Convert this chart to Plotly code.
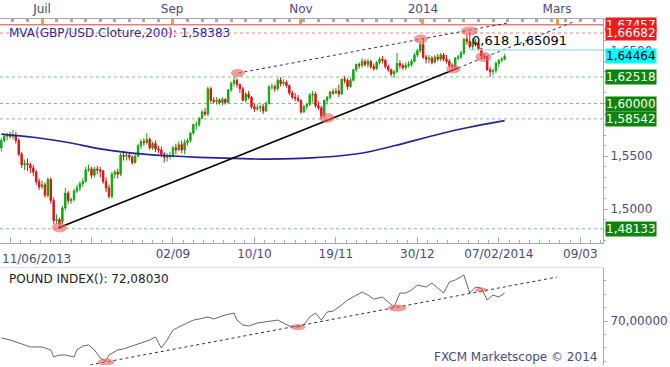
import pandas as pd
import plotly.graph_objects as go

# ---------------- data ----------------
dates = [d.strftime("%Y-%m-%d") for d in pd.bdate_range("2013-06-11", "2014-02-11")
         if d.strftime("%m-%d") not in ("12-25", "01-01")]
bar = list(range(len(dates)))

opens = [1.5580,1.5650,1.5690,1.5700,1.5690,1.5700,1.5650,1.5520,1.5420,1.5430,
         1.5420,1.5390,1.5350,1.5260,1.5210,1.5230,1.5130,1.5280,1.5080,1.4890,
         1.4900,1.4880,1.5010,1.5150,1.5080,1.5090,1.5170,1.5200,1.5240,1.5260,
         1.5370,1.5380,1.5320,1.5380,1.5370,1.5360,1.5260,1.5200,1.5120,1.5330,
         1.5350,1.5330,1.5510,1.5500,1.5510,1.5490,1.5440,1.5500,1.5600,1.5640,
         1.5630,1.5660,1.5580,1.5620,1.5570,1.5560,1.5520,1.5490,1.5500,1.5500,
         1.5580,1.5560,1.5610,1.5560,1.5630,1.5650,1.5720,1.5800,1.5800,1.5860,
         1.5920,1.5900,1.6140,1.6030,1.6020,1.6030,1.6010,1.6040,1.6010,1.6130,
         1.6190,1.6220,1.6180,1.6140,1.6030,1.6090,1.6060,1.5970,1.5950,1.5960,
         1.5970,1.5930,1.6000,1.6160,1.6160,1.6140,1.6220,1.6190,1.6200,1.6170,
         1.6100,1.6060,1.6050,1.6030,1.5920,1.5970,1.5990,1.6080,1.6090,1.5980,
         1.5960,1.5880,1.6030,1.6060,1.6110,1.6100,1.6120,1.6090,1.6230,1.6220,
         1.6160,1.6220,1.6320,1.6370,1.6360,1.6400,1.6370,1.6400,1.6350,1.6330,
         1.6390,1.6420,1.6410,1.6350,1.6320,1.6280,1.6300,1.6380,1.6360,1.6340,
         1.6360,1.6370,1.6400,1.6460,1.6500,1.6560,1.6440,1.6420,1.6430,1.6390,
         1.6440,1.6420,1.6460,1.6420,1.6400,1.6360,1.6350,1.6430,1.6440,1.6480,
         1.6610,1.6590,1.6540,1.6580,1.6570,1.6520,1.6450,1.6440,1.6320,1.6300,
         1.6310,1.6380,1.6410,1.6420]
highs = [1.5675,1.5710,1.5720,1.5730,1.5750,1.5730,1.5670,1.5540,1.5470,1.5480,
         1.5440,1.5420,1.5370,1.5290,1.5270,1.5250,1.5300,1.5300,1.5110,1.4950,
         1.4920,1.5030,1.5200,1.5170,1.5110,1.5190,1.5230,1.5260,1.5290,1.5400,
         1.5420,1.5400,1.5400,1.5410,1.5400,1.5370,1.5300,1.5230,1.5350,1.5370,
         1.5380,1.5530,1.5550,1.5540,1.5530,1.5510,1.5530,1.5620,1.5660,1.5670,
         1.5720,1.5680,1.5640,1.5650,1.5600,1.5590,1.5540,1.5530,1.5540,1.5600,
         1.5620,1.5640,1.5650,1.5660,1.5670,1.5730,1.5810,1.5830,1.5870,1.5940,
         1.5960,1.6160,1.6160,1.6060,1.6060,1.6050,1.6060,1.6050,1.6140,1.6210,
         1.6259,1.6240,1.6190,1.6160,1.6110,1.6120,1.6070,1.6000,1.5990,1.5990,
         1.6000,1.6020,1.6170,1.6190,1.6180,1.6240,1.6250,1.6230,1.6220,1.6180,
         1.6120,1.6100,1.6080,1.6040,1.5990,1.6000,1.6100,1.6120,1.6110,1.6020,
         1.5980,1.6040,1.6070,1.6120,1.6140,1.6150,1.6180,1.6240,1.6260,1.6240,
         1.6240,1.6330,1.6380,1.6390,1.6430,1.6420,1.6420,1.6410,1.6380,1.6400,
         1.6440,1.6450,1.6420,1.6370,1.6330,1.6320,1.6480,1.6410,1.6380,1.6390,
         1.6400,1.6420,1.6480,1.6520,1.6580,1.6620,1.6460,1.6460,1.6450,1.6460,
         1.6470,1.6480,1.6480,1.6460,1.6420,1.6380,1.6440,1.6460,1.6500,1.6620,
         1.6650,1.6668,1.6620,1.6610,1.6590,1.6530,1.6470,1.6450,1.6350,1.6330,
         1.6400,1.6420,1.6440,1.6470]
lows = [1.5545,1.5630,1.5650,1.5670,1.5660,1.5620,1.5500,1.5390,1.5370,1.5360,
        1.5340,1.5310,1.5230,1.5180,1.5190,1.5110,1.5110,1.5050,1.4860,1.4860,
        1.4813,1.4860,1.4990,1.5050,1.5050,1.5070,1.5150,1.5170,1.5210,1.5250,
        1.5350,1.5290,1.5300,1.5330,1.5300,1.5240,1.5160,1.5100,1.5100,1.5290,
        1.5290,1.5310,1.5460,1.5460,1.5460,1.5420,1.5430,1.5490,1.5570,1.5600,
        1.5610,1.5560,1.5560,1.5540,1.5530,1.5490,1.5440,1.5450,1.5470,1.5490,
        1.5520,1.5550,1.5530,1.5520,1.5600,1.5630,1.5700,1.5750,1.5780,1.5850,
        1.5880,1.5880,1.6010,1.6000,1.5990,1.5990,1.5980,1.5990,1.6000,1.6110,
        1.6160,1.6150,1.6100,1.6020,1.6010,1.6040,1.5950,1.5920,1.5930,1.5920,
        1.5900,1.5920,1.5990,1.6130,1.6110,1.6120,1.6160,1.6170,1.6150,1.6080,
        1.6040,1.6020,1.6010,1.5900,1.5910,1.5940,1.5980,1.6010,1.5960,1.5940,
        1.5855,1.5870,1.5990,1.6040,1.6080,1.6090,1.6060,1.6080,1.6190,1.6130,
        1.6150,1.6210,1.6300,1.6330,1.6340,1.6350,1.6340,1.6330,1.6310,1.6320,
        1.6370,1.6380,1.6330,1.6300,1.6260,1.6240,1.6290,1.6330,1.6320,1.6320,
        1.6340,1.6350,1.6390,1.6440,1.6480,1.6420,1.6380,1.6380,1.6370,1.6380,
        1.6400,1.6400,1.6400,1.6380,1.6340,1.6330,1.6340,1.6410,1.6420,1.6460,
        1.6560,1.6520,1.6510,1.6540,1.6500,1.6430,1.6420,1.6310,1.6252,1.6270,
        1.6290,1.6340,1.6390,1.6410]
closes = [1.5650,1.5690,1.5700,1.5690,1.5700,1.5650,1.5520,1.5420,1.5430,1.5420,
          1.5390,1.5350,1.5260,1.5210,1.5230,1.5130,1.5280,1.5080,1.4890,1.4900,
          1.4860,1.5010,1.5150,1.5080,1.5090,1.5170,1.5200,1.5240,1.5260,1.5370,
          1.5380,1.5320,1.5380,1.5370,1.5360,1.5260,1.5200,1.5120,1.5330,1.5350,
          1.5330,1.5510,1.5500,1.5510,1.5490,1.5440,1.5500,1.5600,1.5640,1.5630,
          1.5660,1.5580,1.5620,1.5570,1.5560,1.5520,1.5490,1.5500,1.5500,1.5580,
          1.5560,1.5610,1.5560,1.5630,1.5650,1.5720,1.5800,1.5800,1.5860,1.5920,
          1.5900,1.6140,1.6030,1.6020,1.6030,1.6010,1.6040,1.6010,1.6130,1.6190,
          1.6220,1.6180,1.6140,1.6030,1.6090,1.6060,1.5970,1.5950,1.5960,1.5970,
          1.5930,1.6000,1.6160,1.6160,1.6140,1.6220,1.6190,1.6200,1.6170,1.6100,
          1.6060,1.6050,1.6030,1.5920,1.5970,1.5990,1.6080,1.6090,1.5980,1.5960,
          1.5880,1.6030,1.6060,1.6110,1.6100,1.6120,1.6090,1.6230,1.6220,1.6160,
          1.6220,1.6320,1.6370,1.6360,1.6400,1.6370,1.6400,1.6350,1.6330,1.6390,
          1.6420,1.6410,1.6350,1.6320,1.6280,1.6300,1.6380,1.6360,1.6340,1.6360,
          1.6370,1.6400,1.6460,1.6500,1.6560,1.6440,1.6420,1.6430,1.6390,1.6440,
          1.6420,1.6460,1.6420,1.6400,1.6360,1.6350,1.6430,1.6440,1.6480,1.6610,
          1.6590,1.6540,1.6580,1.6570,1.6520,1.6450,1.6440,1.6320,1.6300,1.6310,
          1.6380,1.6410,1.6420,1.6446]

# 200-day moving average, read at sample bars
ma_bar = [0, 11, 23, 34, 45, 57, 68, 80, 91, 103, 115, 126, 138, 149, 160, 173]
ma_val = [1.5710, 1.5680, 1.5630, 1.5570, 1.5530, 1.5505, 1.5490, 1.5480, 1.5473,
          1.5480, 1.5500, 1.5540, 1.5620, 1.5700, 1.5770, 1.5838]

# Pound index (lower panel)
pi_bar = [0,3,6,10,12,14,17,18,20,22,25,26,28,30,32,34,36,37,40,42,44,47,49,51,53,55,57,59,61,64,
          66,68,71,73,75,77,80,81,83,85,88,91,95,97,99,102,104,106,108,110,112,114,117,119,122,124,
          126,128,131,133,135,137,139,141,143,146,148,150,152,154,156,159,161,163,165,167,169,171,173]
pi_val = [68.74,68.59,68.37,68.07,68.07,68.07,67.85,67.33,67.47,67.47,67.33,67.85,68.14,68.22,67.85,
          67.25,67.03,67.47,67.85,67.92,68.07,68.29,68.44,68.59,68.81,67.99,68.59,69.33,69.55,69.85,
          70.07,70.15,70.30,70.15,70.30,70.45,70.59,70.07,69.70,69.63,69.85,69.93,70.07,69.85,69.63,
          69.55,69.70,70.30,70.59,70.07,70.67,70.74,71.19,71.56,71.93,72.15,71.93,71.63,71.78,71.41,
          71.04,72.08,72.08,72.30,72.67,72.53,72.82,72.45,72.08,72.90,73.05,73.42,72.08,72.53,72.45,
          71.56,71.93,71.78,72.08]

# trend lines (bar, price)
support_bar = [19.5, 157.0, 196.5]
support_val = [1.4820, 1.6337, 1.6773]
resist_bar = [81.5, 174.0]
resist_val = [1.6289, 1.6763]
pi_trend_bar = [30.5, 191.0]
pi_trend_val = [66.73, 73.27]

# horizontal levels
level_val = [1.67457, 1.66682, 1.62518, 1.60000, 1.58542, 1.48133]
level_col = ["#e23a3a", "#f08080", "#7cc47c", "#7cc47c", "#7cc47c", "#7cc47c"]
level_dash = ["solid", "dot", "dot", "dot", "dot", "dot"]

# right-hand value boxes
box_val = [1.67457, 1.66682, 1.64464, 1.62518, 1.60000, 1.58542, 1.48133]
box_txt = ["1,67457", "1,66682", "1,64464", "1,62518", "1,60000", "1,58542", "1,48133"]
box_bg = ["#ee1c1c", "#ee1c1c", "#00ffff", "#0a850a", "#0a850a", "#0a850a", "#0a850a"]
box_fg = ["white", "white", "black", "white", "white", "white", "white"]

fib_bar = 161
fib_val = 1.65091
fib_txt = "0,618 1,65091"

# highlighted swing points (bar, price, w px, h px)
hl_bar = [20, 81.3, 112, 144.2, 160.9, 155.4, 165.7]
hl_val = [1.4826, 1.6289, 1.5862, 1.6611, 1.6687, 1.6327, 1.6441]
hl_w = [15, 14, 15, 14, 17, 14, 16]
hl_h = [10, 8, 10, 9, 9, 9, 10]
pi_hl_bar = [36, 102, 136, 165]
pi_hl_val = [66.95, 69.55, 70.97, 72.30]
pi_hl_w = [17, 15, 19, 13]
pi_hl_h = [7, 6, 7, 5]

# axis ticks
bottom_tick_bar = [3, 31, 59, 87, 115, 143, 171, 199]
bottom_tick_txt = ["", "", "02/09", "10/10", "19/11", "30/12", "07/02/2014", "09/03"]
top_tick_bar = [14, 58.7, 103, 144.9, 191]
top_tick_txt = ["Juil", "Sep", "Nov", "2014", "Mars"]
price_tick_val = [1.50, 1.55, 1.60, 1.65]
price_tick_txt = ["1,5000", "1,5500", "", "1,6500"]

x_range = [-0.45, 206.8]
y_range = [1.4678, 1.6801]
pi_range = [66.73, 73.94]

# ---------------- figure ----------------
FONT = "DejaVu Sans"
SLATE = "#4a4a7c"
AX = "#a8a8b8"

fig = go.Figure()

fig.add_trace(go.Candlestick(
    x=bar, open=opens, high=highs, low=lows, close=closes, text=dates,
    increasing=dict(line=dict(color="#10a810", width=1), fillcolor="#10a810"),
    decreasing=dict(line=dict(color="#e01010", width=1), fillcolor="#e01010"),
    whiskerwidth=0, showlegend=False, xaxis="x", yaxis="y"))

fig.add_trace(go.Scatter(x=ma_bar, y=ma_val, mode="lines", line=dict(color="#23239a", width=1.6, shape="spline"),
                         showlegend=False, xaxis="x", yaxis="y"))

fig.add_trace(go.Scatter(x=support_bar[:2], y=support_val[:2], mode="lines",
                         line=dict(color="black", width=1.6), showlegend=False))
fig.add_trace(go.Scatter(x=support_bar[1:], y=support_val[1:], mode="lines",
                         line=dict(color="#333", width=1, dash="dot"), showlegend=False))
fig.add_trace(go.Scatter(x=resist_bar, y=resist_val, mode="lines",
                         line=dict(color="#333", width=1, dash="dot"), showlegend=False))

fig.add_trace(go.Scatter(x=pi_bar, y=pi_val, mode="lines", line=dict(color="#555", width=0.9),
                         showlegend=False, xaxis="x3", yaxis="y2"))
fig.add_trace(go.Scatter(x=pi_trend_bar, y=pi_trend_val, mode="lines",
                         line=dict(color="#333", width=1, dash="dot"), showlegend=False,
                         xaxis="x3", yaxis="y2"))
# anchor trace for the top date axis
fig.add_trace(go.Scatter(x=[None], y=[None], xaxis="x2", yaxis="y", showlegend=False))

shapes = []
for v, c, d in zip(level_val, level_col, level_dash):
    shapes.append(dict(type="line", xref="paper", x0=0, x1=1, yref="y", y0=v, y1=v,
                       line=dict(color=c, width=1, dash=d), layer="below"))
shapes.append(dict(type="line", xref="x", x0=fib_bar, x1=x_range[1], yref="y", y0=fib_val, y1=fib_val,
                   line=dict(color="#9fdcee", width=1.2)))
for b, v, w, h in zip(hl_bar, hl_val, hl_w, hl_h):
    shapes.append(dict(type="circle", xref="x", yref="y", xsizemode="pixel", ysizemode="pixel",
                       xanchor=b, yanchor=v, x0=-w / 2, x1=w / 2, y0=-h / 2, y1=h / 2,
                       fillcolor="rgba(238,90,90,0.6)", line=dict(width=0)))
for b, v, w, h in zip(pi_hl_bar, pi_hl_val, pi_hl_w, pi_hl_h):
    shapes.append(dict(type="circle", xref="x3", yref="y2", xsizemode="pixel", ysizemode="pixel",
                       xanchor=b, yanchor=v, x0=-w / 2, x1=w / 2, y0=-h / 2, y1=h / 2,
                       fillcolor="rgba(238,90,90,0.6)", line=dict(width=0)))

annotations = []
for v, t, bg, fg in zip(box_val, box_txt, box_bg, box_fg):
    annotations.append(dict(xref="paper", x=1, xanchor="left", xshift=2, yref="y", y=v, yanchor="middle",
                            text=t, showarrow=False, bgcolor=bg, borderpad=0, height=14,
                            font=dict(family=FONT, size=12, color=fg)))
annotations += [
    dict(xref="x", x=fib_bar, xanchor="left", yref="y", y=fib_val, yanchor="bottom", yshift=0,
         text=fib_txt, showarrow=False, font=dict(family=FONT, size=13, color="black")),
    dict(xref="paper", x=0, xanchor="left", xshift=7, yref="paper", y=1, yanchor="top", yshift=-5,
         text="MVA(GBP/USD.Cloture,200): 1,58383", showarrow=False,
         font=dict(family=FONT, size=12, color="#2c2ca0")),
    dict(xref="paper", x=0, xanchor="left", xshift=0, yref="paper", y=0.3526, yanchor="top", yshift=-7,
         text="11/06/2013", showarrow=False, font=dict(family=FONT, size=12, color=SLATE)),
    dict(xref="paper", x=0, xanchor="left", xshift=7, yref="paper", y=0.2803, yanchor="top", yshift=-2,
         text="POUND INDEX(): 72,08030", showarrow=False, font=dict(family=FONT, size=12, color="#222")),
    dict(xref="paper", x=1, xanchor="right", xshift=-4, yref="paper", y=0, yanchor="bottom", yshift=-1,
         text="FXCM Marketscope © 2014", showarrow=False, font=dict(family=FONT, size=12, color=SLATE)),
]

fig.update_layout(
    width=670, height=367, margin=dict(l=0, r=67, t=19, b=2, pad=0),
    paper_bgcolor="white", plot_bgcolor="white", showlegend=False,
    font=dict(family=FONT, size=12, color=SLATE),
    shapes=shapes, annotations=annotations,
    xaxis=dict(domain=[0, 1], anchor="y", range=x_range, rangeslider=dict(visible=False),
               tickmode="array", tickvals=bottom_tick_bar, ticktext=bottom_tick_txt,
               ticks="inside", ticklen=6, tickcolor=AX, showline=True, linecolor=AX,
               showgrid=False, zeroline=False, tickfont=dict(family=FONT, size=12, color=SLATE),
               minor=dict(ticks="inside", ticklen=3, tickcolor=AX, tick0=3, dtick=3.5, showgrid=False)),
    xaxis2=dict(overlaying="x", matches="x", anchor="y", side="top", range=x_range,
                tickmode="array", tickvals=top_tick_bar, ticktext=top_tick_txt,
                ticks="inside", ticklen=5, tickwidth=3, tickcolor="#f0a030", showline=True, linecolor=AX,
                showgrid=False, zeroline=False, tickfont=dict(family=FONT, size=12, color=SLATE),
                minor=dict(ticks="inside", ticklen=3, tickcolor=AX, tick0=14, dtick=5, showgrid=False)),
    xaxis3=dict(domain=[0, 1], anchor="y2", matches="x", side="top", range=x_range,
                showticklabels=False, ticks="", showline=True, linecolor="#dcdce4",
                showgrid=False, zeroline=False),
    yaxis=dict(domain=[0.3526, 1], anchor="x", side="right", range=y_range,
               tickmode="array", tickvals=price_tick_val, ticktext=price_tick_txt,
               ticks="outside", ticklen=4, tickcolor=AX, showline=True, linecolor=AX,
               showgrid=False, zeroline=False, tickfont=dict(family=FONT, size=12, color=SLATE),
               minor=dict(ticks="outside", ticklen=2, tickcolor=AX, tick0=1.5, dtick=0.01, showgrid=False)),
    yaxis2=dict(domain=[0, 0.2803], anchor="x3", side="right", range=pi_range,
                tickmode="array", tickvals=[70], ticktext=["70,00000"],
                ticks="outside", ticklen=4, tickcolor=AX, showline=True, linecolor=AX,
                showgrid=False, zeroline=False, tickfont=dict(family=FONT, size=12, color=SLATE),
                minor=dict(ticks="outside", ticklen=2, tickcolor=AX, tick0=70, dtick=1, showgrid=False)),
)

fig.write_html("out.html", config={"displayModeBar": False},
               post_script="document.body.style.margin='0';document.body.style.overflow='hidden';")
